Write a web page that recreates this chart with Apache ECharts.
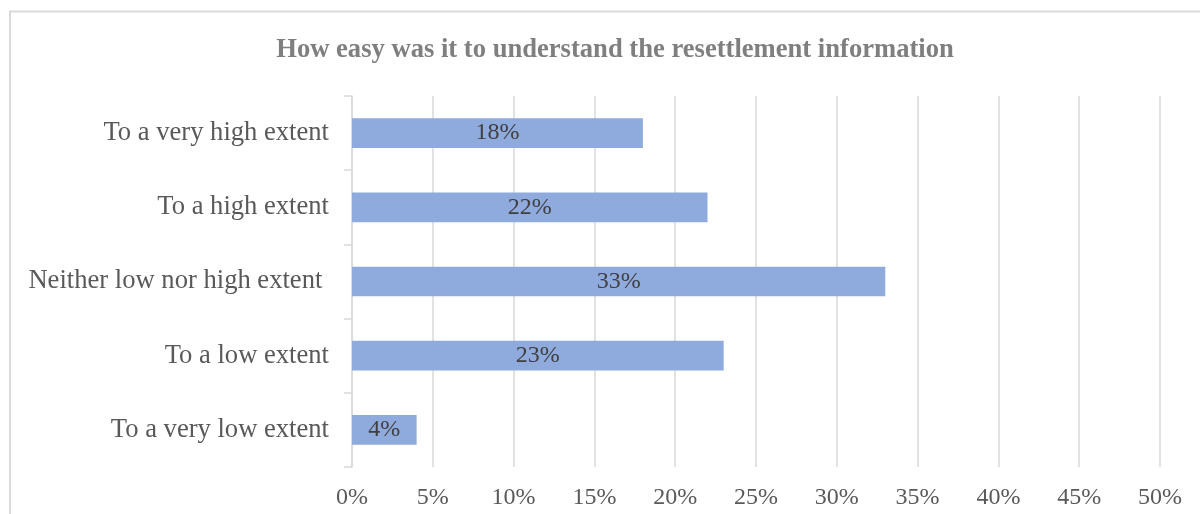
<!DOCTYPE html>
<html>
<head>
<meta charset="utf-8">
<script src="https://cdn.jsdelivr.net/npm/echarts@6/dist/echarts.min.js"></script>
<style>
  html, body { margin: 0; padding: 0; background: #fff; }
  #chart { width: 1200px; height: 514px; }
</style>
</head>
<body>
<div id="chart"></div>
<script>
// Survey responses, listed top to bottom
const categories = [
  'To a very high extent',
  'To a high extent',
  'Neither low nor high extent ',
  'To a low extent',
  'To a very low extent'
];
const shares = [18, 22, 33, 23, 4];
const axisMax = 50;
const axisStep = 5;

const serif = '"Liberation Serif", "DejaVu Serif", serif';
const chart = echarts.init(document.getElementById('chart'), null, { renderer: 'canvas' });

chart.setOption({
  animation: false,
  backgroundColor: '#ffffff',
  title: {
    text: 'How easy was it to understand the resettlement information',
    left: 610,
    textAlign: 'center',
    top: 32,
    textStyle: {
      fontFamily: serif,
      fontSize: 26.6,
      fontWeight: 'bold',
      color: '#7f7f7f'
    }
  },
  graphic: [{
    type: 'rect',
    shape: { x: 10, y: 11.5, width: 1400, height: 700 },
    style: { fill: 'none', stroke: '#d9d9d9', lineWidth: 2 },
    silent: true,
    z: -1
  }],
  grid: { left: 352, right: 40, top: 96, bottom: 47, containLabel: false },
  xAxis: {
    type: 'value',
    min: 0,
    max: axisMax,
    interval: axisStep,
    axisLine: { show: false },
    axisTick: { show: false },
    splitLine: { show: true, lineStyle: { color: '#d9d9d9', width: 1.5 } },
    axisLabel: {
      formatter: v => v + '%',
      fontFamily: serif,
      fontSize: 24,
      color: '#595959',
      margin: 19
    }
  },
  yAxis: {
    type: 'category',
    data: categories,
    inverse: true,
    axisLine: { show: true, lineStyle: { color: '#d9d9d9', width: 1.5 } },
    axisTick: { show: true, length: 8, lineStyle: { color: '#d9d9d9', width: 1.5 } },
    axisLabel: {
      fontFamily: serif,
      fontSize: 26.6,
      color: '#595959',
      margin: 23
    }
  },
  series: [{
    type: 'bar',
    data: shares,
    barWidth: '40%',
    itemStyle: { color: '#8faadc' },
    label: {
      show: true,
      position: 'inside',
      formatter: p => p.value + '%',
      fontFamily: serif,
      fontSize: 24,
      color: '#404040'
    }
  }]
});
</script>
</body>
</html>
